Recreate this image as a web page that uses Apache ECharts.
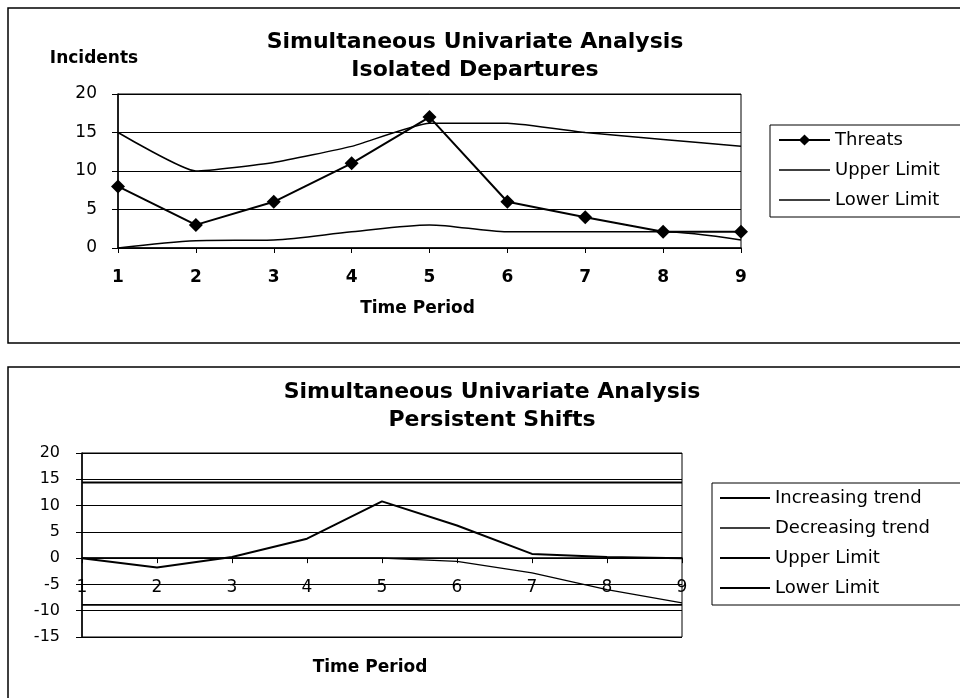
<!DOCTYPE html>
<html>
<head>
<meta charset="utf-8">
<script src="https://cdn.jsdelivr.net/npm/echarts@6/dist/echarts.min.js"></script>
<style>
  html, body { margin: 0; padding: 0; background: #fff; }
  #main { width: 960px; height: 698px; }
</style>
</head>
<body>
<div id="main"></div>
<script>
var periods = ["1", "2", "3", "4", "5", "6", "7", "8", "9"];

// top chart: isolated departures
var threats = [8, 3, 6, 11, 17, 6, 4, 2.1, 2.1];
var upperLimit = [15, 10, 11.1, 13.2, 16.2, 16.2, 15, 14.1, 13.2];
var lowerLimit = [0, 0.95, 1.05, 2.1, 3, 2.1, 2.1, 2.1, 1.05];

// bottom chart: persistent shifts
var increasingTrend = [0, -1.8, 0.2, 3.7, 10.8, 6.2, 0.8, 0.2, 0];
var decreasingTrend = [0, 0, 0, 0, 0, -0.6, -2.8, -6, -8.5];
var shiftUpper = [14.4, 14.4, 14.4, 14.4, 14.4, 14.4, 14.4, 14.4, 14.4];
var shiftLower = [-8.9, -8.9, -8.9, -8.9, -8.9, -8.9, -8.9, -8.9, -8.9];

var font = "DejaVu Sans";
var chartDom = document.getElementById("main");
var myChart = echarts.init(chartDom);

// plain line legend icon (no marker)
function lineIcon(h) {
  return "path://M0,0H50V" + h + "H0Z";
}

function limitSeries(name, data, idx, width, smooth) {
  return {
    name: name,
    type: "line",
    xAxisIndex: idx,
    yAxisIndex: idx,
    data: data,
    smooth: smooth,
    symbol: "none",
    lineStyle: { color: "#000", width: width },
    itemStyle: { color: "#000" },
    emphasis: { disabled: true }
  };
}

var legendText = { fontFamily: font, fontSize: 18, color: "#000", lineHeight: 18 };

var option = {
  backgroundColor: "#fff",
  animation: false,
  title: [
    {
      text: "Simultaneous Univariate Analysis\nIsolated Departures",
      left: 470,
      top: 23,
      textAlign: "center",
      textStyle: { fontFamily: font, fontSize: 22, fontWeight: "bold", color: "#000", lineHeight: 28 }
    },
    {
      text: "Simultaneous Univariate Analysis\nPersistent Shifts",
      left: 487,
      top: 373,
      textAlign: "center",
      textStyle: { fontFamily: font, fontSize: 22, fontWeight: "bold", color: "#000", lineHeight: 28 }
    }
  ],
  legend: [
    {
      data: [
        { name: "Threats" },
        { name: "Upper Limit", icon: lineIcon(1.5) },
        { name: "Lower Limit", icon: lineIcon(1.5) }
      ],
      orient: "vertical",
      left: 770,
      top: 125,
      itemWidth: 51,
      itemHeight: 14,
      itemGap: 12,
      padding: [6, 60, 8, 8],
      borderColor: "#000",
      borderWidth: 1,
      selectedMode: false,
      textStyle: legendText
    },
    {
      data: [
        { name: "Increasing trend", icon: lineIcon(2) },
        { name: "Decreasing trend", icon: lineIcon(1.4) },
        { name: "Upper Limit ", icon: lineIcon(2) },
        { name: "Lower Limit ", icon: lineIcon(1.8) }
      ],
      orient: "vertical",
      left: 712,
      top: 483,
      itemWidth: 50,
      itemHeight: 14,
      itemGap: 12,
      padding: [6, 60, 8, 8],
      borderColor: "#000",
      borderWidth: 1,
      selectedMode: false,
      textStyle: legendText
    }
  ],
  grid: [
    { left: 118, right: 219, top: 94, bottom: 450, outerBoundsMode: "none", show: true, borderColor: "#000", borderWidth: 1 },
    { left: 82, right: 278, top: 453, bottom: 61, outerBoundsMode: "none", show: true, borderColor: "#000", borderWidth: 1 }
  ],
  xAxis: [
    {
      gridIndex: 0,
      type: "category",
      data: periods,
      boundaryGap: false,
      name: "Time Period",
      nameLocation: "middle",
      nameGap: 52,
      nameTextStyle: { fontFamily: font, fontSize: 17, fontWeight: "bold", color: "#000", padding: [0, 24, 0, 0] },
      axisLine: { lineStyle: { color: "#000", width: 1.5 } },
      axisTick: { show: true, length: 5, lineStyle: { color: "#000" } },
      axisLabel: { margin: 21, fontFamily: font, fontSize: 17, fontWeight: "bold", color: "#000" },
      splitLine: { show: false }
    },
    {
      gridIndex: 1,
      type: "category",
      data: periods,
      boundaryGap: false,
      name: "Time Period",
      nameLocation: "middle",
      nameGap: 22,
      nameTextStyle: { fontFamily: font, fontSize: 17, fontWeight: "bold", color: "#000", padding: [0, 24, 0, 0] },
      axisLine: { onZero: true, lineStyle: { color: "#000", width: 1.5 } },
      axisTick: { show: true, length: 5, lineStyle: { color: "#000" } },
      // labels sit just under the zero line, over the -5 gridline
      axisLabel: { margin: -58, fontFamily: font, fontSize: 17, color: "#000" },
      splitLine: { show: false }
    }
  ],
  yAxis: [
    {
      gridIndex: 0,
      type: "value",
      min: 0,
      max: 20,
      interval: 5,
      name: "Incidents",
      nameLocation: "end",
      nameGap: 27,
      nameTextStyle: { fontFamily: font, fontSize: 17, fontWeight: "bold", color: "#000", align: "center", padding: [0, 48, 0, 0] },
      axisLine: { show: true, lineStyle: { color: "#000", width: 1.5 } },
      axisTick: { show: true, length: 6, lineStyle: { color: "#000" } },
      axisLabel: { margin: 21, fontFamily: font, fontSize: 17, color: "#000" },
      splitLine: { show: true, lineStyle: { color: "#000", width: 1.2 } }
    },
    {
      gridIndex: 1,
      type: "value",
      min: -15,
      max: 20,
      interval: 5,
      axisLine: { show: true, onZero: false, lineStyle: { color: "#000", width: 1.5 } },
      axisTick: { show: true, length: 6, lineStyle: { color: "#000" } },
      axisLabel: { margin: 22, fontFamily: font, fontSize: 16, color: "#000" },
      splitLine: { show: true, lineStyle: { color: "#000", width: 1.2 } }
    }
  ],
  graphic: [
    { type: "rect", z: -10, shape: { x: 8, y: 8, width: 1000, height: 335 }, style: { fill: null, stroke: "#000", lineWidth: 1.5 } },
    { type: "rect", z: -10, shape: { x: 8, y: 367, width: 1000, height: 400 }, style: { fill: null, stroke: "#000", lineWidth: 1.5 } }
  ],
  series: [
    {
      name: "Threats",
      type: "line",
      xAxisIndex: 0,
      yAxisIndex: 0,
      data: threats,
      symbol: "diamond",
      symbolSize: 14,
      lineStyle: { color: "#000", width: 2 },
      itemStyle: { color: "#000" },
      emphasis: { disabled: true },
      z: 5
    },
    limitSeries("Upper Limit", upperLimit, 0, 1.5, 0.15),
    limitSeries("Lower Limit", lowerLimit, 0, 1.5, 0.3),
    limitSeries("Increasing trend", increasingTrend, 1, 2, false),
    limitSeries("Decreasing trend", decreasingTrend, 1, 1.3, false),
    limitSeries("Upper Limit ", shiftUpper, 1, 2, false),
    limitSeries("Lower Limit ", shiftLower, 1, 1.8, false)
  ]
};

option && myChart.setOption(option);
</script>
</body>
</html>
